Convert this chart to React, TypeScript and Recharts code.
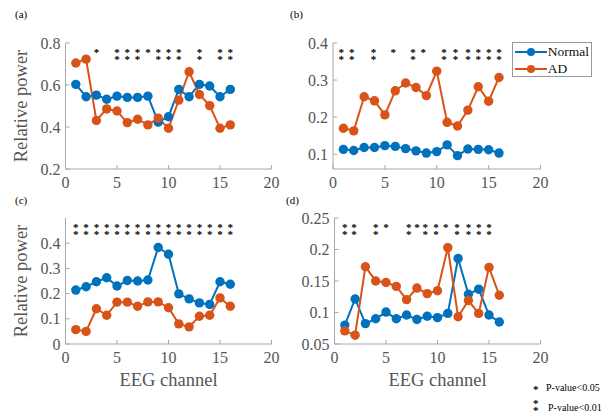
import React from "react";
import { ComposedChart, Line, Scatter, XAxis, YAxis, Legend } from "recharts";

const FONT = "'Liberation Serif', 'Times New Roman', serif";
const C = { normal: "#0072BD", ad: "#D95319", box: "#a8a8a8", text: "#555" };

const channels = [1, 2, 3, 4, 5, 6, 7, 8, 9, 10, 11, 12, 13, 14, 15, 16];
const xTicks = [0, 5, 10, 15, 20];
const seriesNames = ["Normal", "AD"];

// (a)
const normalA = [0.603, 0.544, 0.552, 0.532, 0.547, 0.541, 0.541, 0.547, 0.423, 0.449, 0.579, 0.544, 0.603, 0.595, 0.544, 0.579];
const adA = [0.705, 0.723, 0.431, 0.486, 0.476, 0.421, 0.437, 0.41, 0.442, 0.394, 0.528, 0.663, 0.555, 0.502, 0.394, 0.41];
const sigAx = [3, 5, 6, 7, 8, 9, 10, 11, 13, 15, 16];
const sigAn = [1, 2, 2, 2, 1, 2, 2, 2, 2, 2, 2];

// (b)
const normalB = [0.113, 0.11, 0.118, 0.118, 0.123, 0.121, 0.115, 0.109, 0.103, 0.107, 0.125, 0.096, 0.114, 0.113, 0.112, 0.103];
const adB = [0.17, 0.163, 0.255, 0.244, 0.206, 0.271, 0.292, 0.28, 0.258, 0.324, 0.186, 0.176, 0.219, 0.282, 0.243, 0.307];
const sigBx = [0.8, 1.8, 3.9, 5.8, 7.7, 8.7, 10.7, 11.8, 13, 14, 15, 16];
const sigBn = [2, 2, 2, 1, 2, 1, 2, 2, 2, 2, 2, 2];

// (c)
const normalC = [0.214, 0.227, 0.247, 0.263, 0.23, 0.252, 0.25, 0.254, 0.383, 0.356, 0.199, 0.179, 0.163, 0.157, 0.247, 0.237];
const adC = [0.057, 0.05, 0.14, 0.114, 0.166, 0.166, 0.15, 0.167, 0.167, 0.144, 0.08, 0.068, 0.11, 0.114, 0.183, 0.15];
const sigCx = [1, 2, 3, 4, 5, 6, 7, 8, 9, 10, 11, 12, 13, 14, 15, 16];
const sigCn = [2, 2, 2, 2, 2, 2, 2, 2, 2, 2, 2, 2, 2, 2, 2, 2];

// (d)
const normalD = [0.08, 0.1215, 0.0824, 0.09, 0.1007, 0.09, 0.096, 0.089, 0.094, 0.0918, 0.0986, 0.1858, 0.129, 0.137, 0.096, 0.085];
const adD = [0.0709, 0.064, 0.1727, 0.15, 0.1477, 0.1414, 0.1205, 0.1388, 0.13, 0.1346, 0.203, 0.0933, 0.119, 0.0986, 0.1717, 0.1273];
const sigDx = [1, 1.9, 4, 5, 7.2, 8, 8.8, 9.85, 10.8, 11.9, 13, 14, 15];
const sigDn = [2, 2, 2, 1, 2, 1, 2, 2, 1, 2, 2, 2, 2];

// asterisk rows hang just under the top edge of the box (one * for p<0.05, two for p<0.01)
const StarShape = (props: any) => {
  const { cx, cy, payload } = props;
  return (
    <text x={cx} y={cy + 12.7} textAnchor="middle" fontSize={11} fontWeight="bold" fontFamily={FONT} fill="#000" stroke="none">
      <tspan x={cx}>*</tspan>
      {payload.n === 2 && (
        <tspan x={cx} dy={7.5}>
          *
        </tspan>
      )}
    </text>
  );
};

const LegendBox = ({ payload }: any) => {
  const items = (payload || [])
    .filter((p: any) => seriesNames.includes(p.value))
    .sort((a: any, b: any) => seriesNames.indexOf(a.value) - seriesNames.indexOf(b.value));
  return (
    <div
      style={{
        border: "1px solid #999",
        background: "#fff",
        width: 80,
        height: 35,
        boxSizing: "border-box",
        fontFamily: FONT,
      }}
    >
      {items.map((p: any) => (
        <div key={p.value} style={{ display: "flex", alignItems: "center", height: 17, fontSize: 13.5, color: "#111" }}>
          <svg width={32} height={10} style={{ marginLeft: 2 }}>
            <line x1={0} y1={5} x2={32} y2={5} stroke={p.color} strokeWidth={2} />
            <circle cx={16} cy={5} r={4} fill={p.color} />
          </svg>
          <span style={{ marginLeft: 1 }}>{p.value}</span>
        </div>
      ))}
    </div>
  );
};

type PanelProps = {
  normal: number[];
  ad: number[];
  sigX: number[];
  sigN: number[];
  yDomain: [number, number];
  yTicks: number[];
  width: number;
  height: number;
  yWidth: number;
  right: number;
  xHeight: number;
  yLabel?: boolean;
  xLabel?: boolean;
  legend?: boolean;
};

function Panel(p: PanelProps) {
  const rows = channels.map((ch, i) => ({ ch, normal: p.normal[i], ad: p.ad[i] }));
  const stars = p.sigX.map((ch, i) => ({ ch, v: p.yDomain[1], n: p.sigN[i] }));
  const tick = { fill: C.text, fontSize: 16, fontFamily: FONT };
  const lbl = { fill: C.text, fontSize: 18.5, fontFamily: FONT };
  return (
    <ComposedChart width={p.width} height={p.height} data={rows} margin={{ top: 43, right: p.right, bottom: 0, left: 0 }}>
      <XAxis
        type="number"
        dataKey="ch"
        domain={[0, 20]}
        ticks={xTicks}
        allowDataOverflow
        height={p.xHeight}
        stroke={C.box}
        tickSize={-4}
        tickMargin={12}
        tick={tick}
        label={p.xLabel ? { value: "EEG channel", position: "insideBottom", offset: 14, style: lbl } : undefined}
      />
      <XAxis xAxisId="top" orientation="top" type="number" domain={[0, 20]} ticks={xTicks} height={0} stroke={C.box} tickSize={-4} tick={false} />
      <YAxis
        type="number"
        domain={p.yDomain}
        ticks={p.yTicks}
        allowDataOverflow
        width={p.yWidth}
        stroke={C.box}
        tickSize={-4}
        tickMargin={9}
        tick={tick}
        label={
          p.yLabel
            ? { value: "Relative power", angle: -90, position: "insideLeft", offset: 20, style: { ...lbl, textAnchor: "middle" } }
            : undefined
        }
      />
      <YAxis yAxisId="right" orientation="right" type="number" domain={p.yDomain} ticks={p.yTicks} width={0} stroke={C.box} tickSize={-4} tick={false} />
      <Line
        dataKey="normal"
        name="Normal"
        stroke={C.normal}
        strokeWidth={2}
        dot={{ r: 4.7, fill: C.normal, stroke: C.normal, strokeWidth: 0 }}
        isAnimationActive={false}
      />
      <Line
        dataKey="ad"
        name="AD"
        stroke={C.ad}
        strokeWidth={2}
        dot={{ r: 4.7, fill: C.ad, stroke: C.ad, strokeWidth: 0 }}
        isAnimationActive={false}
      />
      <Scatter data={stars} dataKey="v" shape={StarShape} legendType="none" isAnimationActive={false} />
      {p.legend && (
        <Legend
          layout="vertical"
          align="center"
          verticalAlign="middle"
          content={LegendBox}
          wrapperStyle={{ left: 221.7, top: 42.3, width: 80, height: 35 }}
        />
      )}
    </ComposedChart>
  );
}

const tag = (text: string, left: number, top: number) => (
  <div style={{ position: "absolute", left, top, fontSize: 11, lineHeight: "12px", color: "#000" }}>{text}</div>
);

export default function App() {
  return (
    <div style={{ position: "absolute", left: 0, top: 0, width: 602, height: 419, background: "#fff", fontFamily: FONT }}>
      <div style={{ position: "absolute", left: 0, top: 0 }}>
        <Panel normal={normalA} ad={adA} sigX={sigAx} sigN={sigAn} yDomain={[0.2, 0.8]} yTicks={[0.2, 0.4, 0.6, 0.8]}
          width={290} height={200} yWidth={65.5} right={18.5} xHeight={31} yLabel />
      </div>
      <div style={{ position: "absolute", left: 290, top: 0 }}>
        <Panel normal={normalB} ad={adB} sigX={sigBx} sigN={sigBn} yDomain={[0.06, 0.4]} yTicks={[0.1, 0.2, 0.3, 0.4]}
          width={312} height={200} yWidth={43} right={61.5} xHeight={31} legend />
      </div>
      <div style={{ position: "absolute", left: 0, top: 175 }}>
        <Panel normal={normalC} ad={adC} sigX={sigCx} sigN={sigCn} yDomain={[0, 0.5]} yTicks={[0, 0.1, 0.2, 0.3, 0.4]}
          width={290} height={225} yWidth={65.5} right={18.5} xHeight={56} yLabel xLabel />
      </div>
      <div style={{ position: "absolute", left: 290, top: 175 }}>
        <Panel normal={normalD} ad={adD} sigX={sigDx} sigN={sigDn} yDomain={[0.05, 0.25]} yTicks={[0.05, 0.1, 0.15, 0.2, 0.25]}
          width={312} height={225} yWidth={44.5} right={61.5} xHeight={56} xLabel />
      </div>
      {tag("(a)", 15, 8)}
      {tag("(b)", 290, 8)}
      {tag("(c)", 15, 194)}
      {tag("(d)", 286, 194)}
      <div style={{ position: "absolute", left: 533, top: 384, fontSize: 11, fontWeight: "bold", lineHeight: "10px" }}>*</div>
      <div style={{ position: "absolute", left: 546, top: 383, fontSize: 10, lineHeight: "10px" }}>P-value&lt;0.05</div>
      <div style={{ position: "absolute", left: 533, top: 400, fontSize: 11, fontWeight: "bold", lineHeight: "7px" }}>*<br />*</div>
      <div style={{ position: "absolute", left: 548, top: 403, fontSize: 10, lineHeight: "10px" }}>P-value&lt;0.01</div>
    </div>
  );
}
